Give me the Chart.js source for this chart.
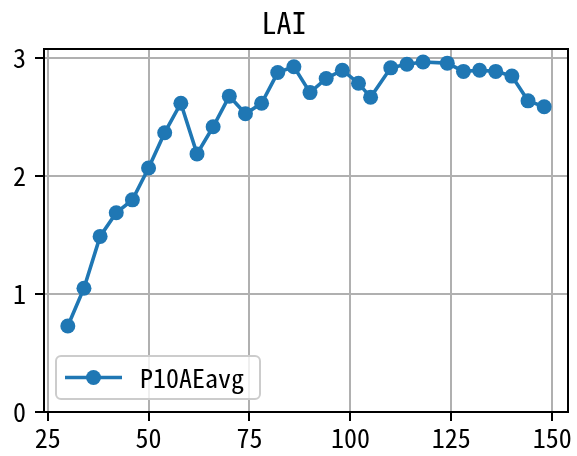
<!DOCTYPE html>
<html>
<head>
<meta charset="utf-8">
<script src="https://cdn.jsdelivr.net/npm/chart.js@4.4.1/dist/chart.umd.min.js"></script>
<style>
  html, body { margin: 0; padding: 0; background: #fff; }
  canvas { display: block; }
</style>
</head>
<body>
<canvas id="lai" width="577" height="456"></canvas>
<script>
const FONT = "'Noto Sans Mono CJK JP', 'Noto Sans CJK JP', monospace";
const BLUE = "#1f77b4";

// days and LAI readings (P10AEavg)
const days = [30, 34, 38, 42, 46, 50, 54, 58, 62, 66, 70, 74, 78, 82, 86,
  90, 94, 98, 102, 105, 110, 114, 118, 124, 128, 132, 136, 140, 144, 148];
const laiAvg = [0.73, 1.05, 1.49, 1.69, 1.80, 2.07, 2.37, 2.62, 2.19, 2.42,
  2.68, 2.53, 2.62, 2.88, 2.93, 2.71, 2.83, 2.90, 2.79, 2.67,
  2.92, 2.95, 2.97, 2.96, 2.89, 2.90, 2.89, 2.85, 2.64, 2.59];
const xTicks = [25, 50, 75, 100, 125, 150];
const yTicks = [0, 1, 2, 3];

// frame + legend drawn like matplotlib
const framePlugin = {
  id: "frame",
  afterDraw(chart) {
    const { ctx, chartArea: a } = chart;
    ctx.save();
    ctx.strokeStyle = "#000";
    ctx.lineWidth = 2;
    ctx.strokeRect(a.left, a.top, a.right - a.left, a.bottom - a.top);

    // legend box
    const bx = 56, by = 356, bw = 204, bh = 43, r = 5;
    ctx.beginPath();
    ctx.roundRect(bx, by, bw, bh, r);
    ctx.fillStyle = "rgba(255,255,255,0.8)";
    ctx.fill();
    ctx.strokeStyle = "#cccccc";
    ctx.lineWidth = 2;
    ctx.stroke();

    const ds = chart.data.datasets[0];
    const ly = by + bh / 2;
    ctx.beginPath();
    ctx.moveTo(65, ly);
    ctx.lineTo(122, ly);
    ctx.strokeStyle = ds.borderColor;
    ctx.lineWidth = ds.borderWidth;
    ctx.stroke();
    ctx.beginPath();
    ctx.arc(93.5, ly, ds.pointRadius, 0, Math.PI * 2);
    ctx.fillStyle = ds.backgroundColor;
    ctx.fill();

    ctx.fillStyle = "#000";
    ctx.font = "26px " + FONT;
    ctx.textBaseline = "middle";
    ctx.fillText(ds.label, 140, ly + 1);
    ctx.restore();
  },
};

const gridOpts = {
  color: "#b0b0b0",
  lineWidth: 2,
  tickLength: 9,
  tickColor: "#000",
  tickWidth: 2,
};

new Chart(document.getElementById("lai"), {
  type: "line",
  data: {
    datasets: [
      {
        label: "P10AEavg",
        data: days.map((d, i) => ({ x: d, y: laiAvg[i] })),
        borderColor: BLUE,
        backgroundColor: BLUE,
        borderWidth: 3.6,
        pointRadius: 7.5,
        pointBorderWidth: 0,
        pointHoverRadius: 7.5,
        tension: 0,
      },
    ],
  },
  options: {
    responsive: false,
    animation: false,
    devicePixelRatio: 1,
    layout: { padding: { left: 0, right: 9, top: 0, bottom: 0 } },
    plugins: {
      legend: { display: false },
      tooltip: { enabled: false },
      title: {
        display: true,
        text: "LAI",
        color: "#000",
        font: { family: FONT, size: 30, weight: "normal" },
        padding: { top: 5, bottom: 8 },
      },
    },
    scales: {
      x: {
        type: "linear",
        min: 24.1,
        max: 153.9,
        afterBuildTicks: (s) => { s.ticks = xTicks.map((v) => ({ value: v })); },
        afterFit: (s) => { s.height = 44; },
        ticks: { color: "#000", font: { family: FONT, size: 26 }, padding: 2, maxRotation: 0 },
        grid: gridOpts,
        border: { color: "#000", width: 2 },
      },
      y: {
        min: 0,
        max: 3.08,
        afterBuildTicks: (s) => { s.ticks = yTicks.map((v) => ({ value: v })); },
        afterFit: (s) => { s.width = 44; },
        ticks: { color: "#000", font: { family: FONT, size: 26 }, padding: 9 },
        grid: gridOpts,
        border: { color: "#000", width: 2 },
      },
    },
  },
  plugins: [framePlugin],
});
</script>
</body>
</html>
